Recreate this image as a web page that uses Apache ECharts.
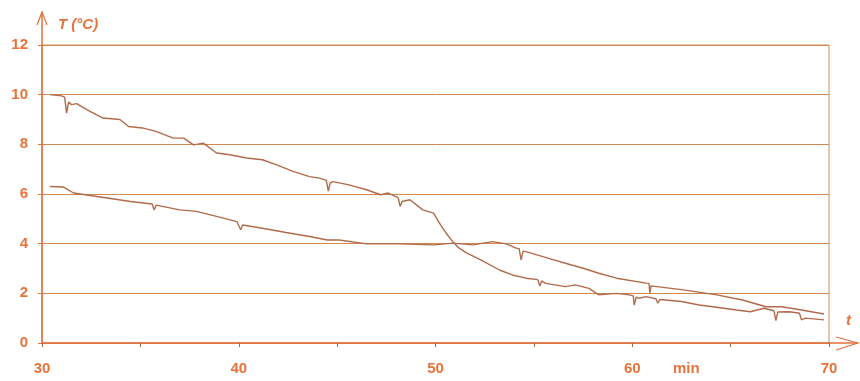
<!DOCTYPE html>
<html>
<head>
<meta charset="utf-8">
<style>
  html, body { margin: 0; padding: 0; background: #fff; }
  #chart { width: 860px; height: 381px; }
</style>
<script src="https://cdn.jsdelivr.net/npm/echarts@6/dist/echarts.min.js"></script>
</head>
<body>
<div id="chart"></div>
<script>
// upper curve at start (cools quickly, crosses at ~51 min)
const timeA = [30.4, 31.0, 31.15, 31.25, 31.35, 31.5, 31.76, 32.44, 33.1, 33.96, 34.4, 35.1, 35.8, 36.67, 37.2, 37.7, 38.2, 38.87, 39.54, 40.4, 41.2, 41.9, 42.76, 43.6, 44.1, 44.45, 44.55, 44.65, 44.8, 45.6, 46.5, 47.2, 47.6, 48.1, 48.2, 48.3, 48.7, 49.35, 49.9, 50.2, 50.54, 50.88, 51.2, 51.6, 52.3, 53.25, 53.9, 54.6, 55.2, 55.3, 55.4, 55.6, 56.6, 57.1, 57.8, 58.3, 59.2, 59.85, 60.05, 60.1, 60.2, 60.35, 60.7, 61.2, 61.3, 61.4, 61.5, 62.5, 63.4, 64.1, 65.3, 66.0, 66.7, 67.2, 67.3, 67.4, 67.5, 68.0, 68.5, 68.6, 68.8, 69.75];
const tempA = [10.0, 9.95, 9.9, 9.26, 9.7, 9.6, 9.64, 9.33, 9.06, 9.0, 8.72, 8.66, 8.52, 8.25, 8.25, 7.98, 8.05, 7.65, 7.58, 7.45, 7.38, 7.18, 6.91, 6.7, 6.64, 6.55, 6.12, 6.45, 6.5, 6.37, 6.17, 5.97, 6.04, 5.85, 5.5, 5.7, 5.77, 5.36, 5.23, 4.83, 4.42, 4.08, 3.82, 3.62, 3.35, 2.94, 2.74, 2.61, 2.55, 2.3, 2.5, 2.4, 2.27, 2.34, 2.2, 1.94, 2.0, 1.94, 1.9, 1.53, 1.85, 1.8, 1.87, 1.78, 1.6, 1.75, 1.73, 1.67, 1.53, 1.46, 1.33, 1.26, 1.4, 1.3, 0.9, 1.25, 1.26, 1.26, 1.2, 0.93, 1.0, 0.93];

// lower curve at start (plateau near 4 °C)
const timeB = [30.4, 31.1, 31.6, 32.8, 34.5, 35.6, 35.7, 35.8, 37.0, 37.85, 38.87, 39.9, 40.0, 40.1, 40.2, 41.2, 42.4, 43.6, 44.5, 45.1, 46.5, 48.2, 49.9, 50.9, 51.9, 52.9, 53.6, 54.1, 54.25, 54.35, 54.45, 54.6, 55.8, 56.6, 57.5, 58.3, 59.2, 60.7, 60.85, 60.9, 60.95, 61.0, 62.6, 64.3, 65.6, 66.8, 67.6, 68.6, 69.75];
const tempB = [6.3, 6.28, 6.04, 5.9, 5.7, 5.6, 5.36, 5.55, 5.36, 5.3, 5.1, 4.89, 4.85, 4.56, 4.75, 4.62, 4.45, 4.29, 4.15, 4.15, 3.99, 3.99, 3.95, 4.02, 3.95, 4.08, 3.99, 3.82, 3.8, 3.35, 3.7, 3.68, 3.4, 3.21, 3.01, 2.81, 2.61, 2.41, 2.4, 2.0, 2.3, 2.34, 2.14, 1.94, 1.73, 1.46, 1.46, 1.33, 1.17];

const xTicks = [30, 40, 50, 60, 70];

const labelColor = '#e8733a';
const gridColor = '#d38a52';
const axisColor = '#e2703c';
const lineColor = '#b26a4a';

const zip = (xs, ys) => xs.map((x, i) => [x, ys[i]]);

const chart = echarts.init(document.getElementById('chart'));

const option = {
    animation: false,
    backgroundColor: '#fff',
    grid: {
        left: 42,
        right: 31,
        top: 45,
        bottom: 38,
        show: true,
        borderColor: gridColor,
        borderWidth: 1
    },
    xAxis: {
        type: 'value',
        min: 30,
        max: 70,
        interval: 5,
        axisLine: { lineStyle: { color: axisColor, width: 1.5 } },
        axisTick: { show: true, length: 4, lineStyle: { color: '#a06848' } },
        splitLine: { show: false },
        axisLabel: {
            margin: 18,
            color: labelColor,
            fontFamily: 'Liberation Sans',
            fontWeight: 'bold',
            fontSize: 15,
            formatter: v => (xTicks.includes(v) ? String(v) : '')
        }
    },
    yAxis: {
        type: 'value',
        min: 0,
        max: 12,
        interval: 2,
        axisLine: { show: true, lineStyle: { color: axisColor, width: 1.5 } },
        axisTick: { show: true, length: 4, lineStyle: { color: axisColor } },
        splitLine: { show: true, lineStyle: { color: gridColor, width: 1 } },
        axisLabel: {
            margin: 14,
            color: labelColor,
            fontFamily: 'Liberation Sans',
            fontWeight: 'bold',
            fontSize: 15
        }
    },
    series: [
        {
            type: 'line',
            data: zip(timeA, tempA),
            showSymbol: false,
            lineStyle: { color: lineColor, width: 1.4 }
        },
        {
            type: 'line',
            data: zip(timeB, tempB),
            showSymbol: false,
            lineStyle: { color: lineColor, width: 1.4 }
        }
    ],
    graphic: [
        // axis arrows
        { type: 'line', shape: { x1: 42, y1: 45, x2: 42, y2: 12 }, style: { stroke: axisColor, lineWidth: 1.5 } },
        { type: 'polyline', shape: { points: [[37, 25], [42, 12], [47, 25]] }, style: { stroke: axisColor, lineWidth: 1.2, fill: null } },
        { type: 'line', shape: { x1: 829, y1: 343, x2: 858, y2: 343 }, style: { stroke: axisColor, lineWidth: 1.5 } },
        { type: 'polyline', shape: { points: [[836, 337], [858, 343], [836, 350]] }, style: { stroke: axisColor, lineWidth: 1.2, fill: null } },
        // axis names
        {
            type: 'text', left: 58, top: 17,
            style: { text: 'T (°C)', fill: labelColor, font: 'italic bold 15px "Liberation Sans"' }
        },
        {
            type: 'text', left: 846, top: 313,
            style: { text: 't', fill: labelColor, font: 'italic bold 15px "Liberation Sans"' }
        },
        {
            type: 'text', left: 673, top: 361,
            style: { text: 'min', fill: labelColor, font: 'bold 15px "Liberation Sans"' }
        }
    ]
};

chart.setOption(option);
</script>
</body>
</html>
